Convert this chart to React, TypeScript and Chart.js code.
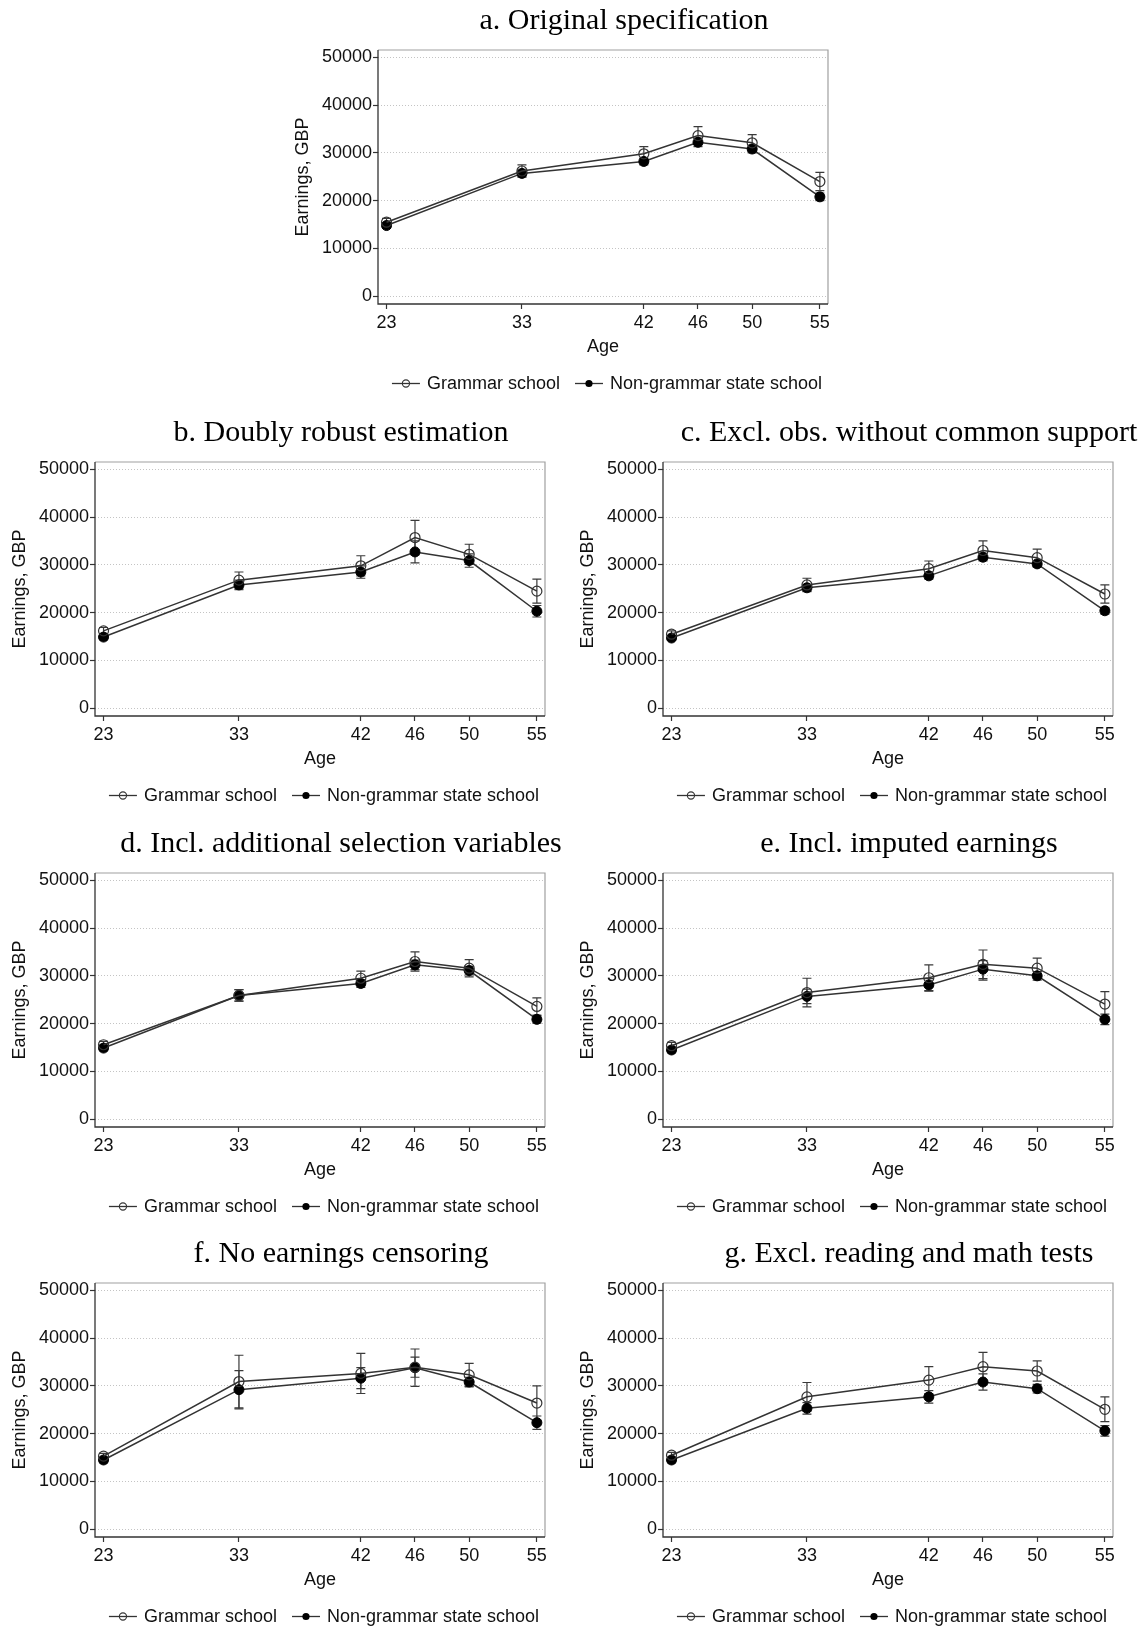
import React, { useEffect, useRef } from "react";
import { Chart, registerables } from "chart.js";
Chart.register(...registerables);

// ---------- data ----------
const AGES = [23, 33, 42, 46, 50, 55];
const Y_TICKS = [0, 10000, 20000, 30000, 40000, 50000];
const SERIES_LABELS = ["Grammar school", "Non-grammar state school"];
const Y_TITLE = "Earnings, GBP";
const X_TITLE = "Age";

const TITLES = [
  "a. Original specification",
  "b. Doubly robust estimation",
  "c. Excl. obs. without common support",
  "d. Incl. additional selection variables",
  "e. Incl. imputed earnings",
  "f. No earnings censoring",
  "g. Excl. reading and math tests",
];

// a. Original specification
const A_GRAM = [15500, 26200, 29800, 33600, 32100, 24000];
const A_GRAM_LO = [14700, 24900, 28300, 31700, 30400, 22100];
const A_GRAM_HI = [16300, 27500, 31300, 35500, 33800, 25900];
const A_NON = [14800, 25700, 28200, 32200, 30800, 20800];
const A_NON_LO = [14300, 25000, 27500, 31300, 30000, 20000];
const A_NON_HI = [15300, 26400, 28900, 33100, 31600, 21600];

// b. Doubly robust estimation
const B_GRAM = [16200, 26800, 29800, 35700, 32200, 24500];
const B_GRAM_LO = [15500, 25100, 27700, 32100, 30100, 22000];
const B_GRAM_HI = [16900, 28500, 31900, 39300, 34300, 27000];
const B_NON = [14900, 25800, 28500, 32700, 30900, 20300];
const B_NON_LO = [14300, 24800, 27200, 30400, 29500, 19100];
const B_NON_HI = [15500, 26800, 29800, 35000, 32300, 21500];

// c. Excl. obs. without common support
const C_GRAM = [15500, 25800, 29200, 33000, 31500, 23900];
const C_GRAM_LO = [14800, 24400, 27600, 31000, 29700, 22000];
const C_GRAM_HI = [16200, 27200, 30800, 35000, 33300, 25800];
const C_NON = [14700, 25200, 27700, 31600, 30200, 20400];
const C_NON_LO = [14200, 24500, 27000, 30800, 29500, 19700];
const C_NON_HI = [15200, 25900, 28400, 32400, 30900, 21100];

// d. Incl. additional selection variables
const D_GRAM = [15600, 25900, 29500, 33000, 31600, 23600];
const D_GRAM_LO = [14900, 24700, 28000, 31000, 29800, 21800];
const D_GRAM_HI = [16300, 27100, 31000, 35000, 33400, 25400];
const D_NON = [14900, 25900, 28400, 32300, 31100, 20900];
const D_NON_LO = [14300, 24700, 27600, 31300, 30200, 20100];
const D_NON_HI = [15500, 27100, 29200, 33300, 32000, 21700];

// e. Incl. imputed earnings
const E_GRAM = [15400, 26500, 29600, 32400, 31600, 24100];
const E_GRAM_LO = [14700, 23500, 26900, 29400, 29500, 21500];
const E_GRAM_HI = [16100, 29500, 32300, 35400, 33700, 26700];
const E_NON = [14500, 25700, 28100, 31400, 30000, 20900];
const E_NON_LO = [13900, 24200, 26800, 29100, 29100, 19800];
const E_NON_HI = [15100, 27200, 29400, 33200, 30900, 22000];

// f. No earnings censoring
const F_GRAM = [15300, 30900, 32600, 33900, 32300, 26400];
const F_GRAM_LO = [14700, 25400, 28400, 31800, 29900, 22800];
const F_GRAM_HI = [15900, 36400, 36800, 36000, 34700, 30000];
const F_NON = [14500, 29200, 31600, 33800, 30800, 22300];
const F_NON_LO = [13900, 25200, 29400, 29900, 29800, 20900];
const F_NON_HI = [15100, 33200, 33800, 37700, 31800, 23700];

// g. Excl. reading and math tests
const G_GRAM = [15500, 27700, 31200, 34000, 33100, 25100];
const G_GRAM_LO = [14900, 24700, 28400, 31000, 31000, 22500];
const G_GRAM_HI = [16100, 30700, 34000, 37000, 35200, 27700];
const G_NON = [14500, 25300, 27700, 30800, 29400, 20600];
const G_NON_LO = [13900, 24100, 26400, 29100, 28500, 19500];
const G_NON_HI = [15100, 26500, 29000, 32500, 30300, 21700];

const PANEL_DATA = [
  { g: A_GRAM, gLo: A_GRAM_LO, gHi: A_GRAM_HI, n: A_NON, nLo: A_NON_LO, nHi: A_NON_HI },
  { g: B_GRAM, gLo: B_GRAM_LO, gHi: B_GRAM_HI, n: B_NON, nLo: B_NON_LO, nHi: B_NON_HI },
  { g: C_GRAM, gLo: C_GRAM_LO, gHi: C_GRAM_HI, n: C_NON, nLo: C_NON_LO, nHi: C_NON_HI },
  { g: D_GRAM, gLo: D_GRAM_LO, gHi: D_GRAM_HI, n: D_NON, nLo: D_NON_LO, nHi: D_NON_HI },
  { g: E_GRAM, gLo: E_GRAM_LO, gHi: E_GRAM_HI, n: E_NON, nLo: E_NON_LO, nHi: E_NON_HI },
  { g: F_GRAM, gLo: F_GRAM_LO, gHi: F_GRAM_HI, n: F_NON, nLo: F_NON_LO, nHi: F_NON_HI },
  { g: G_GRAM, gLo: G_GRAM_LO, gHi: G_GRAM_HI, n: G_NON, nLo: G_NON_LO, nHi: G_NON_HI },
];

// ---------- layout (positions / sizes) ----------
const PANEL_BOXES = [
  { left: 283, top: -2 },
  { left: 0, top: 410 },
  { left: 568, top: 410 },
  { left: 0, top: 821 },
  { left: 568, top: 821 },
  { left: 0, top: 1231 },
  { left: 568, top: 1231 },
];
const PANEL_WIDTH = 682;
const RIGHT_SPACE = 137;
const Y_AXIS_WIDTH = 95;
const PANEL_HEIGHT = 400;

const SANS = "'Liberation Sans', Arial, Helvetica, sans-serif";
const SERIF = "'Liberation Serif', 'Times New Roman', Times, serif";
const INK = "#111";
const LINE = "#333";
const FS = 18;

// frame + error bars drawn with the chart's scales
const framePlugin = {
  id: "stataFrame",
  beforeDatasetsDraw(chart: any) {
    const { ctx, chartArea: a } = chart;
    ctx.save();
    ctx.lineWidth = 1.2;
    ctx.strokeStyle = "#a0a0a0";
    ctx.beginPath();
    ctx.moveTo(a.left, a.top);
    ctx.lineTo(a.right, a.top);
    ctx.lineTo(a.right, a.bottom);
    ctx.stroke();
    ctx.strokeStyle = "#333";
    ctx.lineWidth = 1.3;
    ctx.beginPath();
    ctx.moveTo(a.left, a.top);
    ctx.lineTo(a.left, a.bottom);
    ctx.lineTo(a.right, a.bottom);
    ctx.stroke();

    // error bars
    const xs = chart.scales.x;
    const ys = chart.scales.y;
    ctx.strokeStyle = "#3a3a3a";
    ctx.lineWidth = 1.2;
    chart.data.datasets.forEach((ds: any) => {
      ds.data.forEach((p: any, i: number) => {
        const px = xs.getPixelForValue(p.x);
        const y1 = ys.getPixelForValue(ds.errLo[i]);
        const y2 = ys.getPixelForValue(ds.errHi[i]);
        ctx.beginPath();
        ctx.moveTo(px, y1);
        ctx.lineTo(px, y2);
        ctx.moveTo(px - 4.5, y1);
        ctx.lineTo(px + 4.5, y1);
        ctx.moveTo(px - 4.5, y2);
        ctx.lineTo(px + 4.5, y2);
        ctx.stroke();
      });
    });
    ctx.restore();
  },
};

const legendPlugin = {
  id: "stataLegend",
  afterDraw(chart: any) {
    const { ctx, chartArea: a } = chart;
    const dsets = chart.data.datasets;
    ctx.save();
    ctx.font = `${FS}px ${SANS}`;
    ctx.textBaseline = "middle";
    ctx.textAlign = "left";
    const lineW = 28;
    const gapText = 7;
    const gapItem = 15;
    const widths = dsets.map((d: any) => ctx.measureText(d.label).width);
    const total =
      widths.reduce((s: number, w: number) => s + lineW + gapText + w, 0) +
      gapItem * (dsets.length - 1);
    let x = (a.left + a.right) / 2 - total / 2 + 4;
    const y = a.bottom + 79.5;
    dsets.forEach((d: any, i: number) => {
      ctx.strokeStyle = LINE;
      ctx.lineWidth = 1.3;
      ctx.beginPath();
      ctx.moveTo(x, y);
      ctx.lineTo(x + lineW, y);
      ctx.stroke();
      ctx.beginPath();
      ctx.arc(x + lineW / 2, y, 3.6, 0, Math.PI * 2);
      if (d.legendFilled) {
        ctx.fillStyle = "#000";
        ctx.fill();
      } else {
        ctx.lineWidth = 1.1;
        ctx.stroke();
      }
      ctx.fillStyle = INK;
      ctx.fillText(d.label, x + lineW + gapText, y + 1);
      x += lineW + gapText + widths[i] + gapItem;
    });
    ctx.restore();
  },
};

function Panel({ index }: { index: number }) {
  const ref = useRef<HTMLCanvasElement | null>(null);
  const box = PANEL_BOXES[index];
  const d = PANEL_DATA[index];

  useEffect(() => {
    if (!ref.current) return;
    const mk = (vals: number[]) => AGES.map((x, i) => ({ x, y: vals[i] }));
    const chart = new Chart(ref.current, {
      type: "line",
      data: {
        datasets: [
          {
            label: SERIES_LABELS[0],
            data: mk(d.g),
            errLo: d.gLo,
            errHi: d.gHi,
            legendFilled: false,
            borderColor: LINE,
            borderWidth: 1.5,
            pointRadius: 5,
            pointBorderWidth: 1.2,
            pointBackgroundColor: "rgba(255,255,255,0)",
            pointBorderColor: "#333",
            tension: 0,
          } as any,
          {
            label: SERIES_LABELS[1],
            data: mk(d.n),
            errLo: d.nLo,
            errHi: d.nHi,
            legendFilled: true,
            borderColor: LINE,
            borderWidth: 1.5,
            pointRadius: 5,
            pointBorderWidth: 1,
            pointBackgroundColor: "#000",
            pointBorderColor: "#000",
            tension: 0,
          } as any,
        ],
      },
      options: {
        animation: false,
        responsive: false,
        devicePixelRatio: 1,
        layout: { padding: { left: 0, right: 0, top: 0, bottom: 38 } },
        plugins: {
          legend: { display: false },
          tooltip: { enabled: false },
          title: {
            display: true,
            text: TITLES[index],
            color: "#000",
            font: { family: SERIF, size: 30, weight: "normal" as any, lineHeight: 1.2 },
            padding: { top: 5, bottom: 11 },
          },
        },
        scales: {
          x: {
            type: "linear",
            min: 22.37,
            max: 55.6,
            afterBuildTicks: (s: any) => {
              s.ticks = AGES.map((v) => ({ value: v }));
            },
            afterFit: (s: any) => {
              s.height = 56;
            },
            ticks: {
              color: INK,
              font: { family: SANS, size: FS },
              padding: 3,
              maxRotation: 0,
              autoSkip: false,
            },
            grid: {
              drawOnChartArea: false,
              drawTicks: true,
              tickLength: 5,
              tickColor: "#333",
              tickWidth: 1.2,
            },
            border: { display: false },
            title: {
              display: true,
              text: X_TITLE,
              color: INK,
              font: { family: SANS, size: FS },
              padding: { top: 2, bottom: 2 },
            },
          },
          y: {
            type: "linear",
            position: "left",
            min: -1600,
            max: 51500,
            afterBuildTicks: (s: any) => {
              s.ticks = Y_TICKS.map((v) => ({ value: v }));
            },
            afterFit: (s: any) => {
              s.width = Y_AXIS_WIDTH;
            },
            ticks: {
              color: INK,
              font: { family: SANS, size: FS },
              padding: 1,
              callback: (v: any) => String(v),
            },
            grid: {
              color: "#c4c4c4",
              lineWidth: 1,
              drawTicks: true,
              tickLength: 5,
              tickColor: "#333",
              tickWidth: 1.2,
              tickBorderDash: [],
            } as any,
            border: { display: false, dash: [1, 2] },
            title: {
              display: true,
              text: Y_TITLE,
              color: INK,
              font: { family: SANS, size: FS },
              padding: { top: 9, bottom: 9 },
            },
          },
          // empty right-hand spacer so the title centres on the whole panel
          ySpace: {
            type: "linear",
            position: "right",
            display: true,
            min: 0,
            max: 1,
            ticks: { display: false },
            grid: { display: false, drawTicks: false },
            border: { display: false },
            title: { display: false },
            afterFit: (s: any) => {
              s.width = RIGHT_SPACE;
            },
          },
        },
      } as any,
      plugins: [framePlugin, legendPlugin],
    });
    return () => chart.destroy();
  }, [index]);

  return (
    <div
      style={{
        position: "absolute",
        left: box.left,
        top: box.top,
        width: PANEL_WIDTH,
        height: PANEL_HEIGHT,
      }}
    >
      <canvas
        ref={ref}
        width={PANEL_WIDTH}
        height={PANEL_HEIGHT}
        style={{ display: "block", width: PANEL_WIDTH, height: PANEL_HEIGHT }}
      />
    </div>
  );
}

export default function App() {
  return (
    <div
      style={{
        position: "absolute",
        left: 0,
        top: 0,
        width: 1145,
        height: 1630,
        overflow: "hidden",
        background: "#fff",
      }}
    >
      {PANEL_DATA.map((_, i) => (
        <Panel key={i} index={i} />
      ))}
    </div>
  );
}
